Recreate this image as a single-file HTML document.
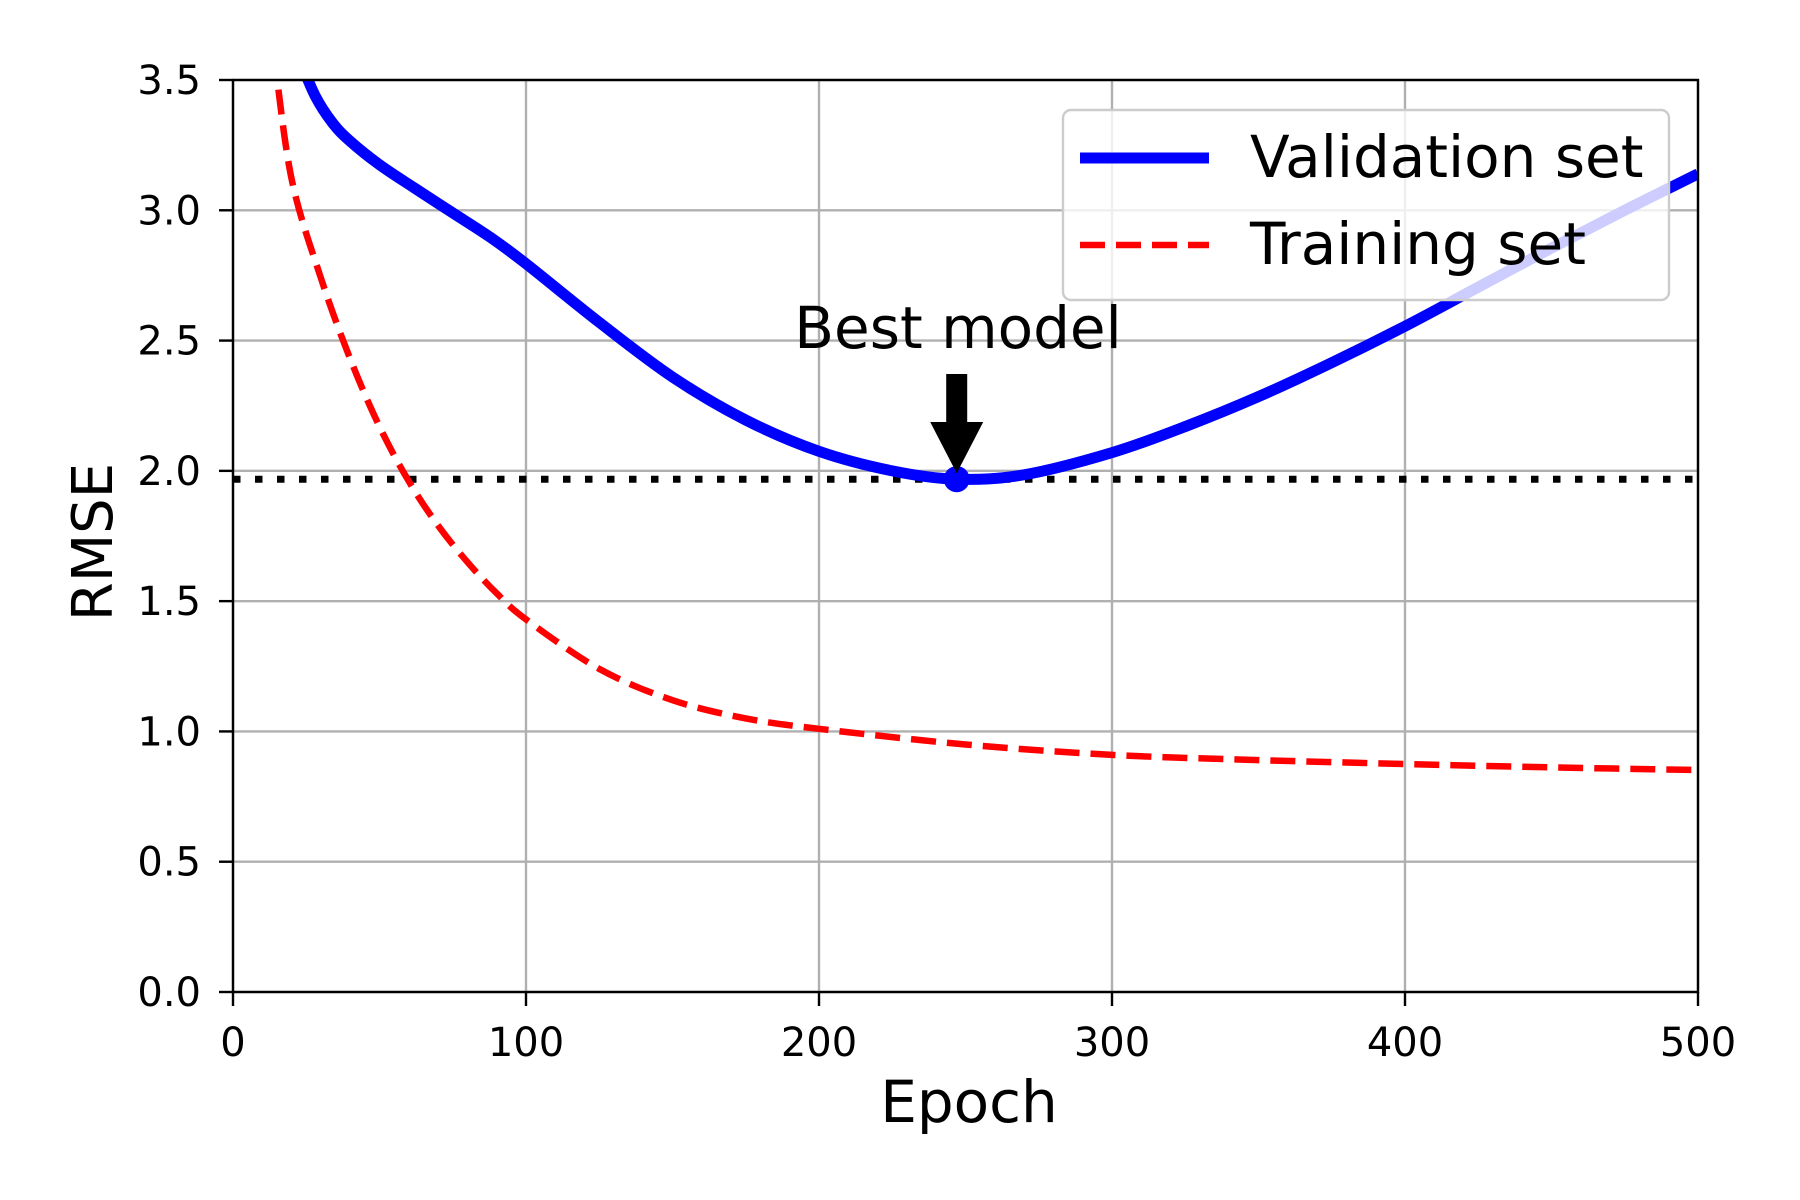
<!DOCTYPE html>
<html><head><meta charset="utf-8"><style>
html,body{margin:0;padding:0;background:#fff;}
svg{display:block;font-family:"DejaVu Sans","Liberation Sans",sans-serif;}
</style></head><body>
<svg id="chart" width="1800" height="1200" viewBox="0 0 1800 1200" xmlns="http://www.w3.org/2000/svg">
<defs><clipPath id="plotclip"><rect x="233" y="80" width="1465" height="912"/></clipPath></defs>
<g id="grid"></g>
<g id="series" clip-path="url(#plotclip)"></g>
<rect x="233" y="80" width="1465" height="912" fill="none" stroke="#000" stroke-width="2.4"/>
<g id="ticks"></g>
<text x="969" y="1122" font-size="58" text-anchor="middle">Epoch</text>
<text x="0" y="0" font-size="56" text-anchor="middle" transform="translate(112,542) rotate(-90)">RMSE</text>
<g>
<text x="958" y="348" font-size="58" text-anchor="middle">Best model</text>
<path id="arrow" d="" fill="#000"/>
</g>
<g>
<rect x="1063" y="110" width="606" height="190" rx="8" fill="#fff" fill-opacity="0.8" stroke="#ccc" stroke-width="2.4"/>
<line x1="1080" y1="158" x2="1209" y2="158" stroke="#00f" stroke-width="11"/>
<text x="1250" y="177" font-size="58">Validation set</text>
<line x1="1080" y1="245" x2="1209" y2="245" stroke="#f00" stroke-width="6.5" stroke-dasharray="25 11"/>
<text x="1250" y="264" font-size="58">Training set</text>
</g>
</svg>
<script>
const xTicks = [0, 100, 200, 300, 400, 500];
const yTicks = [0.0, 0.5, 1.0, 1.5, 2.0, 2.5, 3.0, 3.5];
const valEpochs = [22, 28, 34, 40, 50, 62, 75, 88, 100, 125, 150, 175, 200, 225, 247, 270, 300, 325, 350, 375, 400, 425, 450, 475, 500];
const valRmse = [3.6, 3.44, 3.335, 3.265, 3.175, 3.085, 2.99, 2.895, 2.795, 2.57, 2.36, 2.195, 2.075, 2.0, 1.968, 1.985, 2.07, 2.17, 2.285, 2.415, 2.555, 2.705, 2.855, 3.0, 3.14];
const trainEpochs = [14, 20, 30, 40, 50, 60, 70, 80, 90, 100, 125, 150, 175, 200, 250, 300, 350, 400, 450, 500];
const trainRmse = [3.6, 3.12, 2.74, 2.43, 2.17, 1.96, 1.79, 1.65, 1.53, 1.43, 1.24, 1.12, 1.05, 1.01, 0.95, 0.91, 0.89, 0.875, 0.862, 0.852];
const bestEpoch = 247;
const bestRmse = 1.968;

const X0=233, X1=1698, Y0=992, Y1=80;
const xs = v => X0 + (v/500)*(X1-X0);
const ys = v => Y0 - (v/3.5)*(Y0-Y1);
const NS="http://www.w3.org/2000/svg";
function mk(tag, attrs, parent){const e=document.createElementNS(NS,tag);for(const k in attrs)e.setAttribute(k,attrs[k]);parent.appendChild(e);return e;}
const grid=document.getElementById('grid'), ticks=document.getElementById('ticks'), series=document.getElementById('series');
xTicks.forEach(t=>{
  const g=mk('line',{x1:xs(t),x2:xs(t),y1:Y1,y2:Y0,stroke:'#b0b0b0','stroke-width':2.4},grid);
  
  
  const tk=mk('line',{x1:xs(t),x2:xs(t),y1:Y0,y2:Y0+14,stroke:'#000','stroke-width':2.4},ticks);
  
  
  const tx=mk('text',{x:xs(t),y:1056,'font-size':40,'text-anchor':'middle'},ticks);
  tx.textContent=String(t);
  
  
});
yTicks.forEach(t=>{
  const g=mk('line',{x1:X0,x2:X1,y1:ys(t),y2:ys(t),stroke:'#b0b0b0','stroke-width':2.4},grid);
  
  
  const tk=mk('line',{x1:X0-14,x2:X0,y1:ys(t),y2:ys(t),stroke:'#000','stroke-width':2.4},ticks);
  
  
  const tx=mk('text',{x:X0-32,y:ys(t)+14,'font-size':40,'text-anchor':'end'},ticks);
  tx.textContent=t.toFixed(1);
  
  
});
function smoothPath(ex, ey){
  const p=ex.map((e,i)=>[xs(e),ys(ey[i])]);
  let d='M'+p[0][0]+','+p[0][1];
  for(let i=0;i<p.length-1;i++){
    const a=p[Math.max(i-1,0)],b=p[i],c=p[i+1],e=p[Math.min(i+2,p.length-1)];
    const c1=[b[0]+(c[0]-a[0])/6,b[1]+(c[1]-a[1])/6];
    const c2=[c[0]-(e[0]-b[0])/6,c[1]-(e[1]-b[1])/6];
    d+=' C'+c1+' '+c2+' '+c;
  }
  return d;
}
const dl=mk('line',{x1:X0,x2:X1,y1:ys(bestRmse),y2:ys(bestRmse),stroke:'#000','stroke-width':7,'stroke-dasharray':'7.5 14.5'},series);


const tr=mk('path',{d:smoothPath(trainEpochs,trainRmse),fill:'none',stroke:'#f00','stroke-width':6.5,'stroke-dasharray':'25 11'},series);


const vl=mk('path',{d:smoothPath(valEpochs,valRmse),fill:'none',stroke:'#00f','stroke-width':11},series);


const pt=mk('circle',{cx:xs(bestEpoch),cy:ys(bestRmse),r:13,fill:'#00f'},series);


const ax=xs(bestEpoch), ay=ys(bestRmse)-6;
document.getElementById('arrow').setAttribute('d',
 `M${ax-10.5},374 L${ax+10.5},374 L${ax+10.5},422 L${ax+26.5},422 L${ax},${ay} L${ax-26.5},422 L${ax-10.5},422 Z`);
</script>
</body></html>
